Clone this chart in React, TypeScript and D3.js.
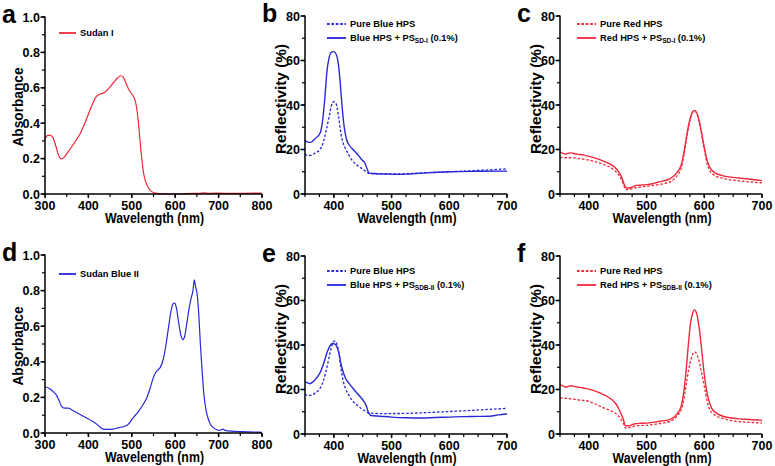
import React from "react";
import * as d3 from "d3";

type Pt = [number, number];

// ---------- data ----------
const sudanI: Pt[] = [[300,0.31],[305,0.33],[311,0.333],[318,0.32],[325,0.27],[332,0.215],[338,0.198],[345,0.21],[355,0.245],[368,0.29],[381,0.34],[395,0.42],[408,0.5],[418,0.55],[428,0.565],[438,0.575],[448,0.6],[458,0.63],[467,0.655],[474,0.668],[480,0.66],[486,0.63],[493,0.59],[500,0.565],[506,0.54],[511,0.49],[515,0.41],[519,0.3],[523,0.2],[527,0.12],[532,0.07],[538,0.035],[545,0.015],[555,0.005],[570,0.001],[600,0.0],[620,0.001],[640,0.004],[655,0.003],[665,0.006],[680,0.004],[700,0.005],[730,0.003],[760,0.004],[800,0.005]];

const sudanBlueII: Pt[] = [[300,0.26],[310,0.25],[320,0.23],[327,0.21],[333,0.18],[338,0.15],[345,0.14],[354,0.14],[365,0.125],[380,0.105],[396,0.084],[410,0.065],[419,0.05],[426,0.035],[434,0.022],[445,0.02],[457,0.022],[470,0.03],[484,0.038],[490,0.045],[503,0.085],[515,0.12],[526,0.16],[535,0.2],[542,0.25],[548,0.3],[553,0.33],[560,0.355],[566,0.37],[573,0.42],[579,0.5],[585,0.6],[590,0.68],[595,0.725],[599,0.73],[603,0.7],[608,0.62],[613,0.55],[618,0.525],[622,0.545],[627,0.62],[632,0.7],[637,0.76],[641,0.8],[644,0.86],[647,0.82],[650,0.79],[654,0.68],[658,0.5],[662,0.35],[666,0.22],[671,0.13],[676,0.08],[682,0.045],[688,0.03],[695,0.02],[702,0.015],[710,0.022],[715,0.015],[730,0.01],[750,0.008],[770,0.006],[790,0.005],[800,0.004]];

const pureBlueB: Pt[] = [[350,18],[355,17.3],[360,17.4],[368,18.5],[376,20],[382,23.5],[387,29],[392,35],[396,40],[400,41.5],[404,40.5],[408,35],[412,27.5],[416,23],[420,20.5],[426,17.5],[432,15],[440,13],[448,11.5],[455,10.2],[460,9.3],[480,9.0],[500,9.0],[530,9.2],[560,9.6],[600,10.0],[650,10.6],[700,11.3]];
const blueSDI: Pt[] = [[350,24.3],[355,23.3],[360,23.2],[368,25],[376,27.3],[380,32],[384,42],[388,55],[392,61.5],[396,63.8],[400,64],[404,62.8],[408,58],[411,50],[414,40],[418,30],[422,24.5],[427,21.8],[435,19.5],[442,17.5],[448,15.5],[454,13.8],[458,11],[461,9.4],[470,9.2],[490,9.0],[510,8.8],[530,9.0],[560,9.5],[600,10.0],[650,10.2],[700,10.3]];

const pureRedC: Pt[] = [[350,16.5],[360,16.3],[370,16.3],[380,16.0],[390,15.7],[400,15.2],[410,14.6],[420,13.8],[430,12.8],[440,11.5],[447,10],[452,8.5],[457,6.2],[461,3.5],[464,2.0],[470,2.0],[476,2.5],[482,2.9],[490,3.1],[500,3.5],[510,3.8],[520,4.2],[530,4.7],[540,5.3],[548,6.8],[555,9],[560,11.5],[565,18],[570,26],[575,33],[580,36.8],[583,37.3],[587,36.2],[591,32.5],[595,27],[600,20],[605,13.5],[610,10.3],[615,8.9],[620,8.0],[630,7.2],[640,6.6],[660,5.9],[680,5.4],[700,5.0]];
const redSDI: Pt[] = [[350,19],[355,18.3],[360,18],[367,18.5],[372,18.3],[380,17.9],[390,17.6],[400,16.9],[410,16.2],[420,15.3],[430,14.2],[440,13],[447,11.5],[452,9.8],[457,7.5],[461,4.5],[464,2.8],[470,2.7],[476,3.2],[482,3.9],[490,4.0],[500,4.2],[510,4.6],[520,5.3],[530,5.9],[540,6.8],[548,8.3],[555,10.5],[560,13],[565,19],[570,27],[575,33.5],[580,37],[583,37.6],[587,36.5],[591,33],[595,28],[600,21],[605,15],[610,11.8],[615,10.2],[620,9.3],[630,8.4],[640,7.8],[660,7.2],[680,6.6],[700,6.0]];

const pureBlueE: Pt[] = [[350,18],[355,17.3],[360,17.4],[368,18.5],[376,20.5],[382,24],[388,30],[393,36],[397,40],[401,41.8],[405,40.5],[409,36],[412,30],[416,24],[420,20.5],[426,17.5],[432,15],[440,13],[448,11.3],[455,10.2],[460,9.5],[480,9.2],[500,9.2],[530,9.3],[560,9.6],[600,10.1],[650,10.8],[700,11.5]];
const blueSDBII: Pt[] = [[350,23.7],[354,23],[358,22.6],[364,23.5],[370,25.2],[376,27.5],[382,31.5],[388,36.5],[393,39.5],[397,40.7],[401,40.5],[405,39.3],[409,36],[412,32],[416,28],[420,25.2],[427,22.5],[435,19.9],[443,17.5],[450,15.4],[456,12.8],[460,9.6],[464,8.3],[480,8.0],[500,7.6],[525,7.3],[550,7.2],[575,7.4],[600,7.6],[625,7.8],[650,7.9],[670,8.0],[685,8.6],[700,9.0]];

const pureRedF: Pt[] = [[350,16.2],[360,16.0],[370,15.8],[380,15.4],[390,15.1],[400,14.7],[410,13.6],[420,12.4],[430,11.3],[440,10.2],[446,9.3],[451,8.2],[456,6.5],[460,4.6],[464,2.6],[470,2.9],[476,3.3],[482,3.7],[490,3.8],[500,3.9],[510,4.2],[520,4.6],[530,5.0],[540,5.6],[548,6.8],[555,8.8],[560,10.8],[565,16],[570,24.4],[575,31.5],[580,35.8],[583,36.9],[587,35.9],[591,32.8],[595,28],[600,21.4],[605,14.5],[610,10.7],[615,9.2],[620,8.2],[630,7.2],[640,6.4],[660,5.6],[680,5.2],[700,4.9]];
const redSDBII: Pt[] = [[350,22.2],[355,21.6],[360,21.1],[365,21.5],[370,21.7],[375,21.3],[380,21.1],[390,20.7],[400,20.2],[410,19.4],[420,18.4],[430,17.1],[440,15.4],[446,13.8],[451,11.8],[456,9],[460,6.4],[463,3.8],[468,3.7],[474,4.0],[480,4.6],[490,4.8],[500,4.9],[510,5.2],[520,5.6],[530,6.0],[540,6.5],[548,7.6],[555,9.8],[560,12.5],[564,18],[568,27],[572,39],[576,49.5],[580,54.5],[583,55.8],[587,54],[591,48],[595,39],[599,29],[603,21],[608,15],[613,11.5],[620,9.6],[630,8.2],[645,7.3],[660,6.8],[680,6.5],[700,6.1]];

const absXTicks = [300, 400, 500, 600, 700, 800];
const absYTicks = [0, 0.2, 0.4, 0.6, 0.8, 1.0];
const refXTicks = [400, 500, 600, 700];
const refYTicks = [0, 20, 40, 60, 80];

const RED = "#f0283a";
const BLUE = "#2828d8";
const FONT = "'Liberation Sans', Arial, Helvetica, sans-serif";

type Series = { data: Pt[]; color: string; dashed: boolean; width: number };
type Legend = { label: string; sub?: string; tail?: string; color: string; dashed: boolean };

type PanelCfg = {
  letter: string;
  x0: number; x1: number; yTop: number; yBot: number;
  xDomain: [number, number]; yDomain: [number, number];
  xTicks: number[]; yTicks: number[]; xMinorStep: number; yMinorStep: number;
  yFmt: (v: number) => string;
  yTitle: string; yTitleLen: number; yTitleX: number; yTitleY: number;
  series: Series[];
  legend: Legend[]; legX: number; legY: number; legLine: number;
};

function Panel({ p }: { p: PanelCfg }) {
  const x = d3.scaleLinear().domain(p.xDomain).range([p.x0, p.x1]);
  const y = d3.scaleLinear().domain(p.yDomain).range([p.yBot, p.yTop]);
  const line = d3.line<Pt>().x(d => x(d[0])).y(d => y(d[1])).curve(d3.curveMonotoneX);
  const xMinor = d3.range(p.xDomain[0], p.xDomain[1] + 0.001, p.xMinorStep);
  const yMinor = d3.range(p.yDomain[0], p.yDomain[1] + 1e-6, p.yMinorStep);
  return (
    <g fontFamily={FONT} fontWeight="bold">
      <text x={p.x0 - 43} y={p.yTop + 6} fontSize={25} fill="#000">{p.letter}</text>
      {p.series.map((s, i) => (
        <path key={i} d={line(s.data) || ""} fill="none" stroke={s.color} strokeWidth={s.width}
          strokeDasharray={s.dashed ? "2.6,1.8" : undefined} strokeLinejoin="round" />
      ))}
      {/* axes */}
      <line x1={p.x0} x2={p.x0} y1={p.yTop - 0.5} y2={p.yBot + 0.75} stroke="#000" strokeWidth={1.5} />
      <line x1={p.x0 - 0.75} x2={p.x1} y1={p.yBot} y2={p.yBot} stroke="#000" strokeWidth={1.5} />
      {yMinor.map((v, i) => (
        <line key={"ym" + i} x1={p.x0 - 3} x2={p.x0} y1={y(v)} y2={y(v)} stroke="#000" strokeWidth={1.2} />
      ))}
      {p.yTicks.map((v, i) => (
        <g key={"y" + i}>
          <line x1={p.x0 - 4.5} x2={p.x0} y1={y(v)} y2={y(v)} stroke="#000" strokeWidth={1.5} />
          <text x={p.x0 - 5} y={y(v)} dy="0.36em" textAnchor="end" fontSize={12.5} fill="#000">{p.yFmt(v)}</text>
        </g>
      ))}
      {xMinor.map((v, i) => (
        <line key={"xm" + i} x1={x(v)} x2={x(v)} y1={p.yBot} y2={p.yBot + 3} stroke="#000" strokeWidth={1.2} />
      ))}
      {p.xTicks.map((v, i) => (
        <g key={"x" + i}>
          <line x1={x(v)} x2={x(v)} y1={p.yBot} y2={p.yBot + 4} stroke="#000" strokeWidth={1.5} />
          <text x={x(v)} y={p.yBot + 15.5} textAnchor="middle" fontSize={12.5} fill="#000">{v}</text>
        </g>
      ))}
      <text x={(p.x0 + p.x1) / 2 + 1} y={p.yBot + 28.5} textAnchor="middle" fontSize={14} fill="#000"
        textLength={99} lengthAdjust="spacingAndGlyphs">Wavelength (nm)</text>
      <text transform={`translate(${p.yTitleX},${p.yTitleY}) rotate(-90)`} textAnchor="middle" dy="0.36em"
        fontSize={14} fill="#000" textLength={p.yTitleLen} lengthAdjust="spacingAndGlyphs">{p.yTitle}</text>
      {p.legend.map((l, i) => {
        const ly = p.legY + i * 14;
        return (
          <g key={"l" + i}>
            <line x1={p.legX} x2={p.legX + p.legLine} y1={ly} y2={ly} stroke={l.color}
              strokeWidth={1.8} strokeDasharray={l.dashed ? "2.6,1.8" : undefined} />
            <text x={p.legX + p.legLine + 4} y={ly} dy="0.35em" fontSize={9.3} fill="#000">
              {l.label}
              {l.sub ? <tspan fontSize={6.5} dy={2}>{l.sub}</tspan> : null}
              {l.tail ? <tspan fontSize={9.3} dy={l.sub ? -2 : 0}>{l.tail}</tspan> : null}
            </text>
          </g>
        );
      })}
    </g>
  );
}

const fmt1 = d3.format(".1f");
const fmt0 = d3.format("d");

const panels: PanelCfg[] = [
  {
    letter: "a", x0: 45, x1: 262, yTop: 17, yBot: 194, xDomain: [300, 800], yDomain: [0, 1],
    xTicks: absXTicks, yTicks: absYTicks, xMinorStep: 50, yMinorStep: 0.1, yFmt: fmt1,
    yTitle: "Absorbance", yTitleLen: 79, yTitleX: 18, yTitleY: 107,
    series: [{ data: sudanI, color: RED, dashed: false, width: 1.2 }],
    legend: [{ label: "Sudan I", color: RED, dashed: false }], legX: 59, legY: 33, legLine: 17,
  },
  {
    letter: "b", x0: 305, x1: 507, yTop: 16, yBot: 194, xDomain: [350, 700], yDomain: [0, 80],
    xTicks: refXTicks, yTicks: refYTicks, xMinorStep: 25, yMinorStep: 10, yFmt: fmt0,
    yTitle: "Reflectivity (%)", yTitleLen: 110, yTitleX: 281, yTitleY: 99,
    series: [
      { data: pureBlueB, color: BLUE, dashed: true, width: 1.3 },
      { data: blueSDI, color: BLUE, dashed: false, width: 1.4 },
    ],
    legend: [
      { label: "Pure Blue HPS", color: BLUE, dashed: true },
      { label: "Blue HPS + PS", sub: "SD-I", tail: " (0.1%)", color: BLUE, dashed: false },
    ], legX: 327, legY: 24, legLine: 19,
  },
  {
    letter: "c", x0: 560, x1: 762, yTop: 16, yBot: 194, xDomain: [350, 700], yDomain: [0, 80],
    xTicks: refXTicks, yTicks: refYTicks, xMinorStep: 25, yMinorStep: 10, yFmt: fmt0,
    yTitle: "Reflectivity (%)", yTitleLen: 110, yTitleX: 536, yTitleY: 99,
    series: [
      { data: pureRedC, color: RED, dashed: true, width: 1.3 },
      { data: redSDI, color: RED, dashed: false, width: 1.4 },
    ],
    legend: [
      { label: "Pure Red HPS", color: RED, dashed: true },
      { label: "Red HPS + PS", sub: "SD-I", tail: " (0.1%)", color: RED, dashed: false },
    ], legX: 577, legY: 24, legLine: 19,
  },
  {
    letter: "d", x0: 45, x1: 262, yTop: 255, yBot: 433, xDomain: [300, 800], yDomain: [0, 1],
    xTicks: absXTicks, yTicks: absYTicks, xMinorStep: 50, yMinorStep: 0.1, yFmt: fmt1,
    yTitle: "Absorbance", yTitleLen: 79, yTitleX: 18, yTitleY: 346,
    series: [{ data: sudanBlueII, color: BLUE, dashed: false, width: 1.2 }],
    legend: [{ label: "Sudan Blue II", color: BLUE, dashed: false }], legX: 59, legY: 274, legLine: 17,
  },
  {
    letter: "e", x0: 305, x1: 507, yTop: 256, yBot: 434, xDomain: [350, 700], yDomain: [0, 80],
    xTicks: refXTicks, yTicks: refYTicks, xMinorStep: 25, yMinorStep: 10, yFmt: fmt0,
    yTitle: "Reflectivity (%)", yTitleLen: 110, yTitleX: 281, yTitleY: 339,
    series: [
      { data: pureBlueE, color: BLUE, dashed: true, width: 1.3 },
      { data: blueSDBII, color: BLUE, dashed: false, width: 1.4 },
    ],
    legend: [
      { label: "Pure Blue HPS", color: BLUE, dashed: true },
      { label: "Blue HPS + PS", sub: "SDB-II", tail: " (0.1%)", color: BLUE, dashed: false },
    ], legX: 327, legY: 271, legLine: 19,
  },
  {
    letter: "f", x0: 560, x1: 762, yTop: 256, yBot: 434, xDomain: [350, 700], yDomain: [0, 80],
    xTicks: refXTicks, yTicks: refYTicks, xMinorStep: 25, yMinorStep: 10, yFmt: fmt0,
    yTitle: "Reflectivity (%)", yTitleLen: 110, yTitleX: 536, yTitleY: 339,
    series: [
      { data: pureRedF, color: RED, dashed: true, width: 1.3 },
      { data: redSDBII, color: RED, dashed: false, width: 1.4 },
    ],
    legend: [
      { label: "Pure Red HPS", color: RED, dashed: true },
      { label: "Red HPS + PS", sub: "SDB-II", tail: " (0.1%)", color: RED, dashed: false },
    ], legX: 577, legY: 271, legLine: 19,
  },
];

export default function App() {
  return (
    <svg width={775} height={466} viewBox="0 0 775 466"
      style={{ position: "absolute", left: 0, top: 0, background: "#fff" }}>
      <rect x={0} y={0} width={775} height={466} fill="#fff" />
      {panels.map((p) => <Panel key={p.letter} p={p} />)}
    </svg>
  );
}
